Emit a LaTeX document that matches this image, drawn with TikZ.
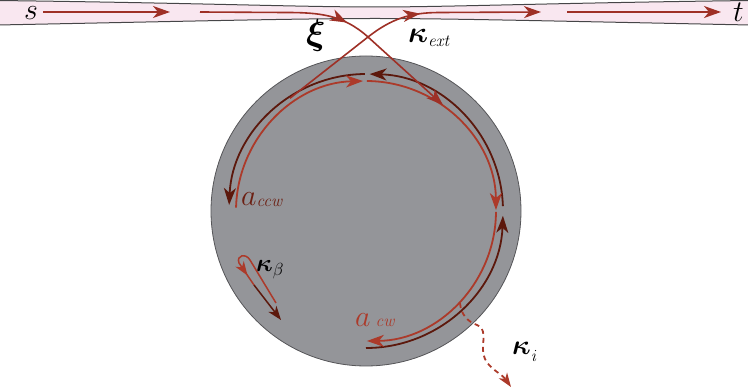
\documentclass[tikz,border=0pt]{standalone}
\usepackage{fix-cm}
\usepackage{bm}
\usetikzlibrary{arrows.meta,decorations.markings,calc}

\definecolor{wgpink}{RGB}{249,231,240}
\definecolor{wgedge}{RGB}{70,70,72}
\definecolor{ringgray}{RGB}{148,149,153}
\definecolor{ringedge}{RGB}{85,85,88}
\definecolor{wgred}{RGB}{158,48,38}
\definecolor{cwred}{RGB}{172,58,42}
\definecolor{ccwdark}{RGB}{92,24,12}

\newcommand\lblsub[2]{\raisebox{-#1}{\fontsize{17}{18}\selectfont$\mathit{#2}$}}

\tikzset{
  headed/.style={-{Stealth[length=17pt,width=12pt,inset=5pt]}},
  smallhead/.style={-{Stealth[length=14pt,width=10pt,inset=4pt]}},
  arrowmid/.style={postaction={decorate},
    decoration={markings,mark=at position #1 with {\arrow{Stealth[length=17pt,width=12pt,inset=5pt]}}}},
  wgline/.style={color=wgred, line width=1.6pt},
  cwline/.style={color=cwred, line width=1.8pt},
  ccwline/.style={color=ccwdark, line width=1.8pt},
  lbl/.style={anchor=base west, inner sep=0pt},
}

\begin{document}
\begin{tikzpicture}[x=1pt, y=1pt, font=\fontsize{30}{32}\selectfont]
  \useasboundingbox (0,0) rectangle (748,391);

  % bus waveguide
  \fill[wgpink] (-2,390.5) .. controls (200,388) and (300,384) .. (375,384)
    .. controls (450,384) and (550,388) .. (750,390.5) -- (750,366)
    .. controls (550,370) and (450,372.5) .. (375,372.5)
    .. controls (300,372.5) and (200,370) .. (-2,366) -- cycle;
  \draw[wgedge, line width=1pt] (-2,390.5) .. controls (200,388) and (300,384) .. (375,384)
    .. controls (450,384) and (550,388) .. (750,390.5);
  \draw[wgedge, line width=1pt] (-2,366) .. controls (200,370) and (300,372.5) .. (375,372.5)
    .. controls (450,372.5) and (550,370) .. (750,366);

  % resonator
  \coordinate (C) at (366,180);
  \filldraw[fill=ringgray, draw=ringedge, line width=0.8pt] (C) circle[radius=155];

  % ccw mode
  \draw[ccwline, headed] ($(C)+(-90:137)$) arc[start angle=-90, end angle=-2, radius=137];
  \draw[ccwline, headed] ($(C)+(2:137)$) arc[start angle=2, end angle=88.5, radius=137];
  \draw[ccwline, headed] ($(C)+(90.5:137)$) arc[start angle=90.5, end angle=177.5, radius=137];

  % cw mode
  \draw[cwline, headed] ($(C)+(178.5:130)$) arc[start angle=178.5, end angle=91.3, radius=130];
  \draw[cwline, headed] ($(C)+(89.6:130)$) arc[start angle=89.6, end angle=0.4, radius=130];
  \draw[cwline, headed] ($(C)+(-0.4:130)$) arc[start angle=-0.4, end angle=-89.6, radius=130];

  % coupling in and out
  \coordinate (win) at (43,379);
  \coordinate (wa) at (170,379);
  \coordinate (wb) at (200,379);
  \coordinate (wbend) at (285,378.5);
  \coordinate (X) at (368,354);
  \coordinate (cwin) at ($(C)+(54:131)$);
  \coordinate (ccwout) at ($(C)+(124:136)$);
  \coordinate (wflat) at (440,378.5);
  \coordinate (wc) at (541,379);
  \coordinate (wd) at (567,379);
  \coordinate (wout) at (721,379);

  \draw[wgline, headed] (win) -- (wa);
  \draw[wgline, arrowmid=0.54, headed] (wb) -- (wbend) to[out=0, in=138] (X) -- (cwin);
  \draw[wgline, arrowmid=0.565, headed] (ccwout) -- (X) to[out=38, in=180] (wflat) -- (wc);
  \draw[wgline, headed] (wd) -- (wout);

  % backscattering
  \coordinate (bsa) at (276,88);
  \coordinate (bsb) at (250,131);
  \coordinate (bsc) at (239,128);
  \coordinate (bsd) at (254,106);
  \coordinate (bse) at (281,71);
  \draw[cwline, line width=1.5pt, postaction={decorate},
    decoration={markings,mark=at position 0.88 with {\arrow{Stealth[length=14pt,width=10pt,inset=4pt]}}}]
    (bsa) -- (bsb) .. controls (246,138) and (236,136) .. (bsc) -- (bsd);
  \draw[ccwline, line width=1.5pt, smallhead] (bsd) -- (bse);

  % intrinsic loss
  \coordinate (lsa) at (460,88);
  \coordinate (lsb) at (477,66);
  \coordinate (lsc) at (483,42);
  \coordinate (lsd) at (511,4);
  \draw[cwline, dash pattern=on 5pt off 4pt, smallhead] (lsa) to[out=-85, in=160] (lsb)
    to[out=-20, in=90] (lsc) to[out=-90, in=125] (lsd);

  % labels
  \node[lbl] (s) at (24,371) {$s$};
  \node[lbl] (t) at (733,369) {$t$};
  \node[lbl, font=\fontsize{36}{40}\selectfont] (xi) at (306,346) {$\bm{\xi}$};
  \node[lbl] (kext) at (408,348) {$\bm{\kappa}$\lblsub{4pt}{ext}};
  \node[lbl, text=ccwdark!80!cwred] (accw) at (241,185) {$a$\lblsub{1pt}{ccw}};
  \node[lbl, text=cwred] (acw) at (355,64) {$a$\,\lblsub{0pt}{cw}};
  \node[lbl, font=\fontsize{25}{28}\selectfont] (kbeta) at (256,119) {$\bm{\kappa}_\beta$};
  \node[lbl, font=\fontsize{28}{30}\selectfont] (ki) at (512,36) {$\bm{\kappa}$\lblsub{7pt}{i}};
\end{tikzpicture}
\end{document}
